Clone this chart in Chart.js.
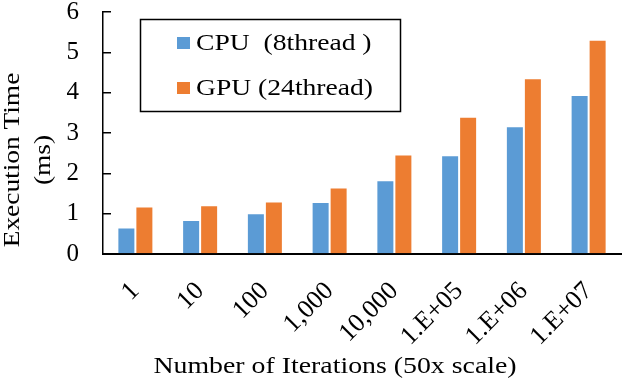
<!DOCTYPE html>
<html>
<head>
<meta charset="utf-8">
<script src="https://cdn.jsdelivr.net/npm/chart.js@4"></script>
<style>
  html, body { margin: 0; padding: 0; background: #fff; }
  #wrap { width: 623px; height: 380px; }
</style>
</head>
<body>
<div id="wrap"><canvas id="chart" width="623" height="380"></canvas></div>
<script>
// ── Data ──
const iterations = ["1", "10", "100", "1,000", "10,000", "1.E+05", "1.E+06", "1.E+07"];
const cpuTimes = [0.66, 0.84, 1.01, 1.29, 1.83, 2.45, 3.17, 3.94];
const gpuTimes = [1.18, 1.21, 1.30, 1.65, 2.47, 3.40, 4.36, 5.31];
const yTicks = [0, 1, 2, 3, 4, 5, 6];
const seriesNames = ["CPU  (8thread )", "GPU (24thread)"];
const yTitle = ["Execution Time", "(ms)"];
const xTitle = "Number of Iterations (50x scale)";

const serif = "'Liberation Serif', 'Times New Roman', serif";
const blue = "#5B9BD5";
const orange = "#ED7D31";

// draw text a bit wider than the font, like the original export
function wideText(ctx, text, x, y, stretch, angle) {
  ctx.save();
  ctx.translate(x, y);
  if (angle) ctx.rotate(angle);
  ctx.scale(stretch, 1);
  ctx.fillText(text, 0, 0);
  ctx.restore();
}

// legend box + axis titles, placed like the original figure
const decorations = {
  id: "decorations",
  afterDraw(chart) {
    const ctx = chart.ctx;
    ctx.save();

    // legend
    ctx.fillStyle = "#fff";
    ctx.fillRect(140, 19, 260, 92);
    ctx.lineWidth = 1.5;
    ctx.strokeStyle = "#000";
    ctx.strokeRect(140.5, 19.5, 260, 92);
    ctx.font = `24px ${serif}`;
    ctx.textBaseline = "alphabetic";
    chart.data.datasets.forEach((ds, i) => {
      ctx.fillStyle = ds.backgroundColor;
      ctx.fillRect(177, 37 + i * 45, 13, 12);
      ctx.fillStyle = "#000";
      wideText(ctx, ds.label, 196, 50 + i * 45, 1.15);
    });

    // axis titles
    ctx.font = `23px ${serif}`;
    ctx.textAlign = "center";
    ctx.fillStyle = "#000";
    wideText(ctx, xTitle, 335, 373, 1.21);
    yTitle.forEach((line, i) => {
      wideText(ctx, line, 19 + i * 31, 160, 1.19, -Math.PI / 2);
    });
    ctx.restore();
  },
};

new Chart(document.getElementById("chart"), {
  type: "bar",
  data: {
    labels: iterations,
    datasets: [
      {
        label: seriesNames[0],
        data: cpuTimes,
        backgroundColor: blue,
        borderColor: "rgba(255,255,255,0.5)",
        borderWidth: 1,
        categoryPercentage: 0.556,
        barPercentage: 1,
      },
      {
        label: seriesNames[1],
        data: gpuTimes,
        backgroundColor: orange,
        borderColor: "rgba(255,255,255,0.5)",
        borderWidth: 1,
        categoryPercentage: 0.556,
        barPercentage: 1,
      },
    ],
  },
  options: {
    responsive: false,
    animation: false,
    layout: { padding: { top: 12, right: 2, left: 0, bottom: 0 } },
    plugins: {
      legend: { display: false },
      tooltip: { enabled: false },
    },
    scales: {
      x: {
        grid: { display: false },
        border: { color: "#000", width: 2 },
        ticks: {
          color: "#000",
          font: { family: serif, size: 26 },
          minRotation: 45,
          maxRotation: 45,
          padding: 14,
        },
        afterFit: (s) => {
          s.height = 126;
          s.paddingLeft = 0;
          s.paddingRight = 0;
        },
      },
      y: {
        min: 0,
        max: 6,
        grid: {
          drawOnChartArea: false,
          color: "#000",
          lineWidth: 1.5,
          tickLength: -8,
        },
        border: { color: "#000", width: 1.5 },
        afterBuildTicks: (s) => { s.ticks = yTicks.map((v) => ({ value: v })); },
        ticks: {
          color: "#000",
          font: { family: serif, size: 25 },
          padding: 32,
        },
        afterFit: (s) => {
          s.width = 103;
          s.paddingTop = 0;
          s.paddingBottom = 0;
        },
      },
    },
  },
  plugins: [decorations],
});
</script>
</body>
</html>
